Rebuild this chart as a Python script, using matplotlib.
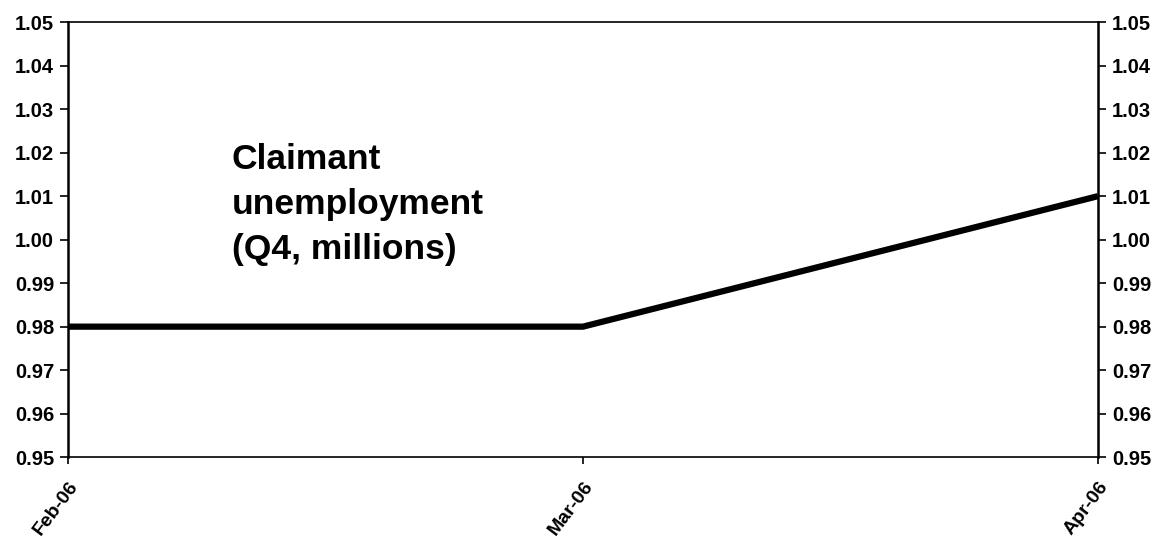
import matplotlib.pyplot as plt

plt.rcParams['font.family'] = ['Liberation Sans', 'DejaVu Sans']
plt.rcParams['font.weight'] = 'bold'

# データ
months = ["Feb-06", "Mar-06", "Apr-06"]
claimants = [0.98, 0.98, 1.01]
y_ticks = [0.95, 0.96, 0.97, 0.98, 0.99, 1.00, 1.01, 1.02, 1.03, 1.04, 1.05]

fig = plt.figure(figsize=(11.63, 5.41), dpi=100)
ax = fig.add_axes([0.0585, 0.155, 0.8855, 0.804])

x_pos = range(len(months))
ax.plot(x_pos, claimants, color="black", linewidth=4.5, solid_capstyle="butt")

ax.set_xlim(0, len(months) - 1)
ax.set_ylim(0.95, 1.05)
ax.set_yticks(y_ticks)
ax.set_yticklabels([f"{v:.2f}" for v in y_ticks])
ax.set_xticks(list(x_pos))
ax.set_xticklabels(months, rotation=53, ha="right", rotation_mode="anchor")

ax.tick_params(axis="y", which="both", direction="out", length=6, width=1.2,
               labelsize=14.5, left=True, right=True, labelleft=True, labelright=True, pad=4)
ax.tick_params(axis="x", direction="out", length=5, width=1.2, labelsize=14, pad=10)

for side in ["left", "right"]:
    ax.spines[side].set_linewidth(1.8)
for side in ["top", "bottom"]:
    ax.spines[side].set_linewidth(1.2)

ax.text(0.159, 0.722, "Claimant\nunemployment\n(Q4, millions)", transform=ax.transAxes,
        fontsize=25.5, fontweight="bold", va="top", ha="left", linespacing=1.45)

fig.savefig("out.png", dpi=100)
